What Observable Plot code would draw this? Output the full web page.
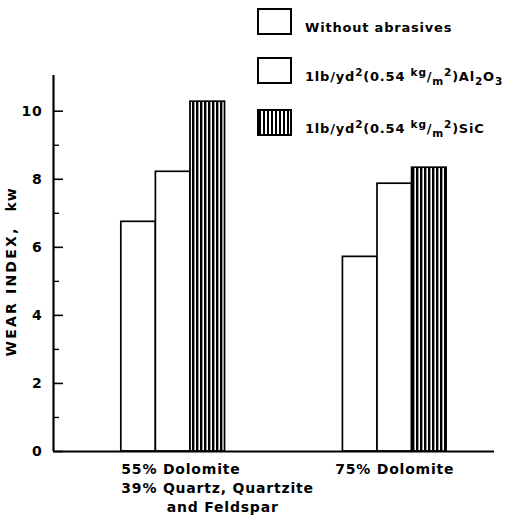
<!DOCTYPE html>
<html>
<head>
<meta charset="utf-8">
<script src="https://cdn.jsdelivr.net/npm/d3@7"></script>
<script src="https://cdn.jsdelivr.net/npm/@observablehq/plot@0.6"></script>
<style>
  body { margin: 0; background: #fff; }
  #wrap { position: relative; width: 507px; height: 517px; font-family: "DejaVu Sans", sans-serif; color: #000; }
  #wrap svg text { letter-spacing: 0.8px; }
  .item { position: absolute; left: 257px; display: flex; align-items: flex-start; white-space: nowrap; }
  .sw { width: 35px; height: 27px; border: 2px solid #000; box-sizing: border-box; background: #fff; flex: none; }
  .sw.hatch { background: repeating-linear-gradient(to right, #000 0 2.4px, #fff 2.4px 4px); }
  .lab { margin-left: 13px; margin-top: 13px; font-size: 13px; font-weight: bold; letter-spacing: 0.8px; line-height: 14px; }
  .lab sup, .lab sub { font-size: 10.5px; line-height: 0; }
</style>
</head>
<body>
<div id="wrap"></div>
<script>
// ---- data ----
const groups = ["55% Dolomite", "75% Dolomite"];
const groupLabelLines = [["55% Dolomite", "39% Quartz, Quartzite", "and Feldspar"], ["75% Dolomite"]];
const seriesNames = ["Without abrasives", "1 lb/yd² (0.54 kg/m²) Al₂O₃", "1 lb/yd² (0.54 kg/m²) SiC"];
const legendLabels = [
  "Without abrasives",
  "1lb/yd<sup>2</sup>(0.54 <sup>kg</sup>/<sub>m</sub><sup>2</sup>)Al<sub>2</sub>O<sub>3</sub>",
  "1lb/yd<sup>2</sup>(0.54 <sup>kg</sup>/<sub>m</sub><sup>2</sup>)SiC"
];
const withoutAbrasives = [6.75, 5.72];
const al2o3 = [8.22, 7.87];
const sic = [10.28, 8.34];
const yTicks = [0, 2, 4, 6, 8, 10];
const yMinorTicks = [1, 3, 5, 7, 9];
const yLabel = "WEAR INDEX,";
const yUnit = "kw";

// ---- layout (scale-domain units) ----
const bw = 0.156;                 // bar width, in group units
const xDomain = [-0.54, 1.45];
const yMax = 11.05;

const seriesValues = [withoutAbrasives, al2o3, sic];
const rows = [];
groups.forEach((g, gi) => {
  seriesValues.forEach((vals, si) => {
    const x1 = gi + (si - 1.5) * bw;
    rows.push({group: g, series: seriesNames[si], value: vals[gi], x1, x2: x1 + bw});
  });
});

const label0 = groupLabelLines[0][0] + "\n" + groupLabelLines[0][1] + "\n" + "\u00a0".repeat(8) + groupLabelLines[0][2];
const label1 = groupLabelLines[1].join("\n");

const chart = Plot.plot({
  width: 507,
  height: 517,
  marginLeft: 53,
  marginRight: 13,
  marginTop: 75,
  marginBottom: 66,
  style: {fontFamily: "DejaVu Sans", fontSize: "14px", color: "#000", background: "#fff"},
  x: {type: "linear", domain: xDomain, axis: null},
  y: {domain: [0, yMax], axis: null, label: null},
  color: {domain: seriesNames, range: ["white", "white", "url(#hatch)"]},
  marks: [
    Plot.rectY(rows, {x1: "x1", x2: "x2", y1: 0, y2: "value", fill: "series", stroke: "black", strokeWidth: 1.7}),
    Plot.ruleY([0], {x1: xDomain[0], x2: xDomain[1], strokeWidth: 2.2}),
    Plot.ruleX([xDomain[0]], {y1: 0, y2: yMax, strokeWidth: 2.2}),
    Plot.axisY(yTicks, {tickSize: 10, dx: 10, tickFormat: () => "", label: null, strokeWidth: 1.6}),
    Plot.axisY(yMinorTicks, {tickSize: 6, dx: 6, tickFormat: () => "", label: null, strokeWidth: 1.4}),
    Plot.axisY(yTicks, {tickSize: 0, tickPadding: 11, fontSize: 14, fontWeight: "bold", label: null}),
    Plot.text([label0], {text: d => d, x: 0 - 1.5 * bw, y: 0, textAnchor: "start", lineAnchor: "top", dy: 9, lineHeight: 1.37, fontWeight: "bold", fontSize: 14}),
    Plot.text([label1], {text: d => d, x: 1, y: 0, textAnchor: "middle", lineAnchor: "top", dy: 9, lineHeight: 1.37, fontWeight: "bold", fontSize: 14}),
    Plot.text([yLabel], {text: d => d, frameAnchor: "left", textAnchor: "middle", lineAnchor: "middle", rotate: -90, dx: -42, dy: 28, fontWeight: "bold", fontSize: 14}),
    Plot.text([yUnit], {text: d => d, frameAnchor: "left", textAnchor: "middle", lineAnchor: "middle", rotate: -90, dx: -42, dy: -64, fontWeight: "bold", fontSize: 14})
  ]
});

// hatch pattern definition
const defs = d3.select(chart).insert("defs", ":first-child");
const pat = defs.append("pattern").attr("id", "hatch").attr("patternUnits", "userSpaceOnUse")
  .attr("width", 4).attr("height", 4);
pat.append("rect").attr("width", 4).attr("height", 4).attr("fill", "#fff");
pat.append("rect").attr("width", 2.4).attr("height", 4).attr("fill", "#000");

// wider letter spacing on the y-axis title
d3.select(chart).selectAll("text").filter(function () { return this.textContent === yLabel; })
  .style("letter-spacing", "2.2px");

const wrap = document.getElementById("wrap");
wrap.appendChild(chart);

// legend
const tops = [8, 57, 109];
legendLabels.forEach((html, i) => {
  const item = document.createElement("div");
  item.className = "item";
  item.style.top = tops[i] + "px";
  item.innerHTML = `<div class="sw${i === 2 ? " hatch" : ""}"></div><div class="lab">${html}</div>`;
  wrap.appendChild(item);
});
</script>
</body>
</html>
